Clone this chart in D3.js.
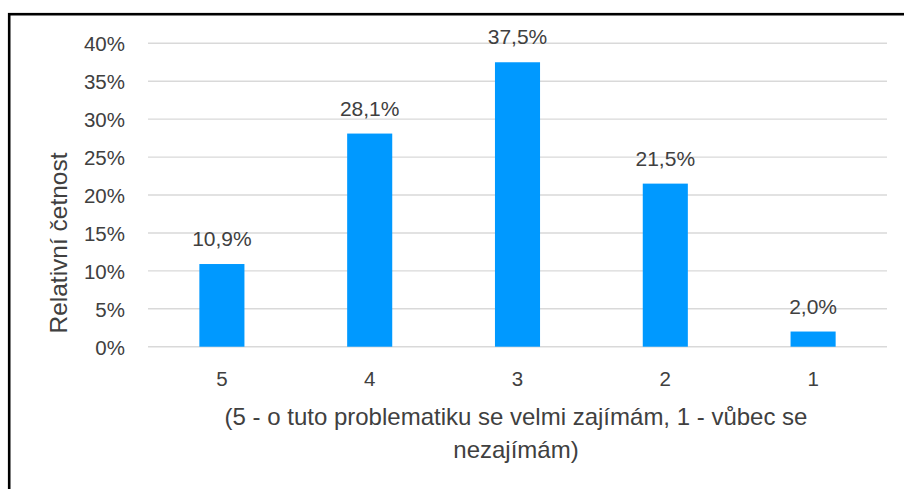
<!DOCTYPE html>
<html><head><meta charset="utf-8">
<script src="https://cdn.jsdelivr.net/npm/d3@7"></script>
<style>body{margin:0;background:#fff;} svg{display:block;}</style>
</head><body>
<svg id="chart" width="904" height="489"></svg>
<script>
const categories = ["5", "4", "3", "2", "1"];
const values = [10.9, 28.1, 37.5, 21.5, 2.0];
const yTicks = [0, 5, 10, 15, 20, 25, 30, 35, 40];
const yTitle = "Relativní četnost";
const xTitleLines = ["(5 - o tuto problematiku se velmi zajímám, 1 - vůbec se", "nezajímám)"];

(function () {
const svg = d3.select("#chart");
const font = "'Liberation Sans', Arial, sans-serif";
const textColor = "#404040";

// frame
svg.append("rect").attr("x", 9.2).attr("y", 14.2).attr("width", 1200).attr("height", 1200)
  .attr("fill", "none").attr("stroke", "#000").attr("stroke-width", 2.6);

const pLeft = 148, pRight = 887, pTop = 43.3, pBottom = 346.7;
const x = d3.scaleBand().domain(categories).range([pLeft, pRight]).paddingInner(0.695).paddingOuter(0.3475);
const y = d3.scaleLinear().domain([0, 40]).range([pBottom, pTop]);

// gridlines
svg.append("g").selectAll("line").data(yTicks).join("line")
  .attr("x1", pLeft).attr("x2", pRight)
  .attr("y1", d => y(d)).attr("y2", d => y(d))
  .attr("stroke", "#d9d9d9").attr("stroke-width", 1.4);

// y axis labels
const yAxis = d3.axisLeft(y).tickValues(yTicks).tickFormat(d => d + "%").tickSize(0).tickPadding(0);
const ga = svg.append("g").attr("transform", `translate(125,0)`).call(yAxis);
ga.select(".domain").remove();
ga.selectAll("text").attr("font-family", font).attr("font-size", 20.5).attr("fill", textColor).attr("dy", "0.36em");

// bars
svg.append("g").selectAll("rect").data(values).join("rect")
  .attr("x", (d, i) => x(categories[i]))
  .attr("width", x.bandwidth())
  .attr("y", d => y(d))
  .attr("height", d => y(0) - y(d))
  .attr("fill", "#0099ff");

// data labels
svg.append("g").selectAll("text").data(values).join("text")
  .attr("x", (d, i) => x(categories[i]) + x.bandwidth() / 2)
  .attr("y", d => y(d) - 18)
  .attr("text-anchor", "middle")
  .attr("font-family", font).attr("font-size", 21).attr("fill", textColor)
  .text(d => d.toFixed(1).replace(".", ",") + "%");

// x axis labels
const xAxis = d3.axisBottom(x).tickSize(0).tickPadding(0);
const gx = svg.append("g").attr("transform", `translate(0,${pBottom})`).call(xAxis);
gx.select(".domain").remove();
gx.selectAll("text").attr("font-family", font).attr("font-size", 20.5).attr("fill", textColor)
  .attr("dy", 0).attr("y", 39.5);

// x title
svg.append("g").selectAll("text").data(xTitleLines).join("text")
  .attr("x", 516).attr("y", (d, i) => 425 + i * 32.5)
  .attr("text-anchor", "middle")
  .attr("font-family", font).attr("font-size", 24).attr("fill", textColor)
  .text(d => d);

// y title
svg.append("text")
  .attr("transform", "translate(67,243) rotate(-90)")
  .attr("text-anchor", "middle")
  .attr("font-family", font).attr("font-size", 24.5).attr("fill", textColor)
  .text(yTitle);
})();
</script>
</body></html>
